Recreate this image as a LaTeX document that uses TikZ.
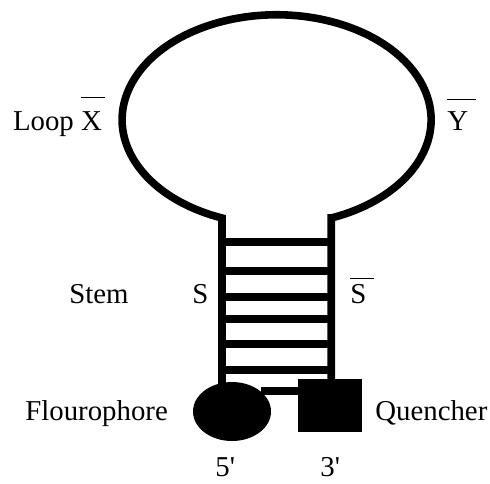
\documentclass[tikz,border=0pt]{standalone}
\usepackage{fontspec}
\setmainfont{Liberation Serif}
\usetikzlibrary{shapes.geometric}
\newcommand{\topbar}[2]{$\overline{\vphantom{\rule{0pt}{#1}}\hbox{#2}}$}
\tikzset{
  strand/.style={line width=3.8pt, line join=miter},
  rung/.style={line width=4pt},
  dye/.style={ellipse, fill=black, inner sep=0pt,
              minimum width=39pt, minimum height=29.5pt},
  quenchbox/.style={rectangle, fill=black, inner sep=0pt,
              minimum width=32pt, minimum height=26.5pt},
  lbl/.style={inner sep=0pt, anchor=base west,
              font=\fontsize{14.4}{17}\selectfont}
}

\begin{document}
\begin{tikzpicture}[x=0.5pt, y=-0.5pt]
    \useasboundingbox (0,0) rectangle (490,483);
    % end groups
    \node[dye] (fluor) at (232,411.5) {};
    \node[quenchbox] (quench) at (330,405.5) {};
    % loop and stem
    \coordinate (loopL) at (222,218);
    \coordinate (loopR) at (331.2,218);
    \draw[strand] (loopL |- fluor.center) -- (loopL)
      arc[start angle=249.3, end angle=-69.3, x radius=77.25pt, y radius=52.5pt]
      -- (loopR) -- (loopR |- quench.center);
    \foreach \y in {242,271,297,319,344,370}
      \draw[rung] (loopL |- 0,\y) -- (loopR |- 0,\y);
    \draw[strand] (fluor.35) -- (fluor.35 -| quench.west);
    % labels
    \node[lbl] (loop)  at (12.7,130) {Loop \topbar{15pt}{X\kern1.5pt}};
    \node[lbl] (ybar)  at (447,130) {\topbar{14pt}{Y\kern4pt}};
    \node[lbl] (stem)  at (69,303) {Stem};
    \node[lbl] (sfwd)  at (192,303) {S};
    \node[lbl] (sbar)  at (350,303) {\topbar{11pt}{S\kern4pt}};
    \node[lbl] (flab)  at (25,420) {Flourophore};
    \node[lbl] (qlab)  at (375,420) {Quencher};
    \node[lbl] (five)  at (215,476) {5\textquotesingle};
    \node[lbl] (three) at (320,476) {3\textquotesingle};
\end{tikzpicture}
\end{document}
